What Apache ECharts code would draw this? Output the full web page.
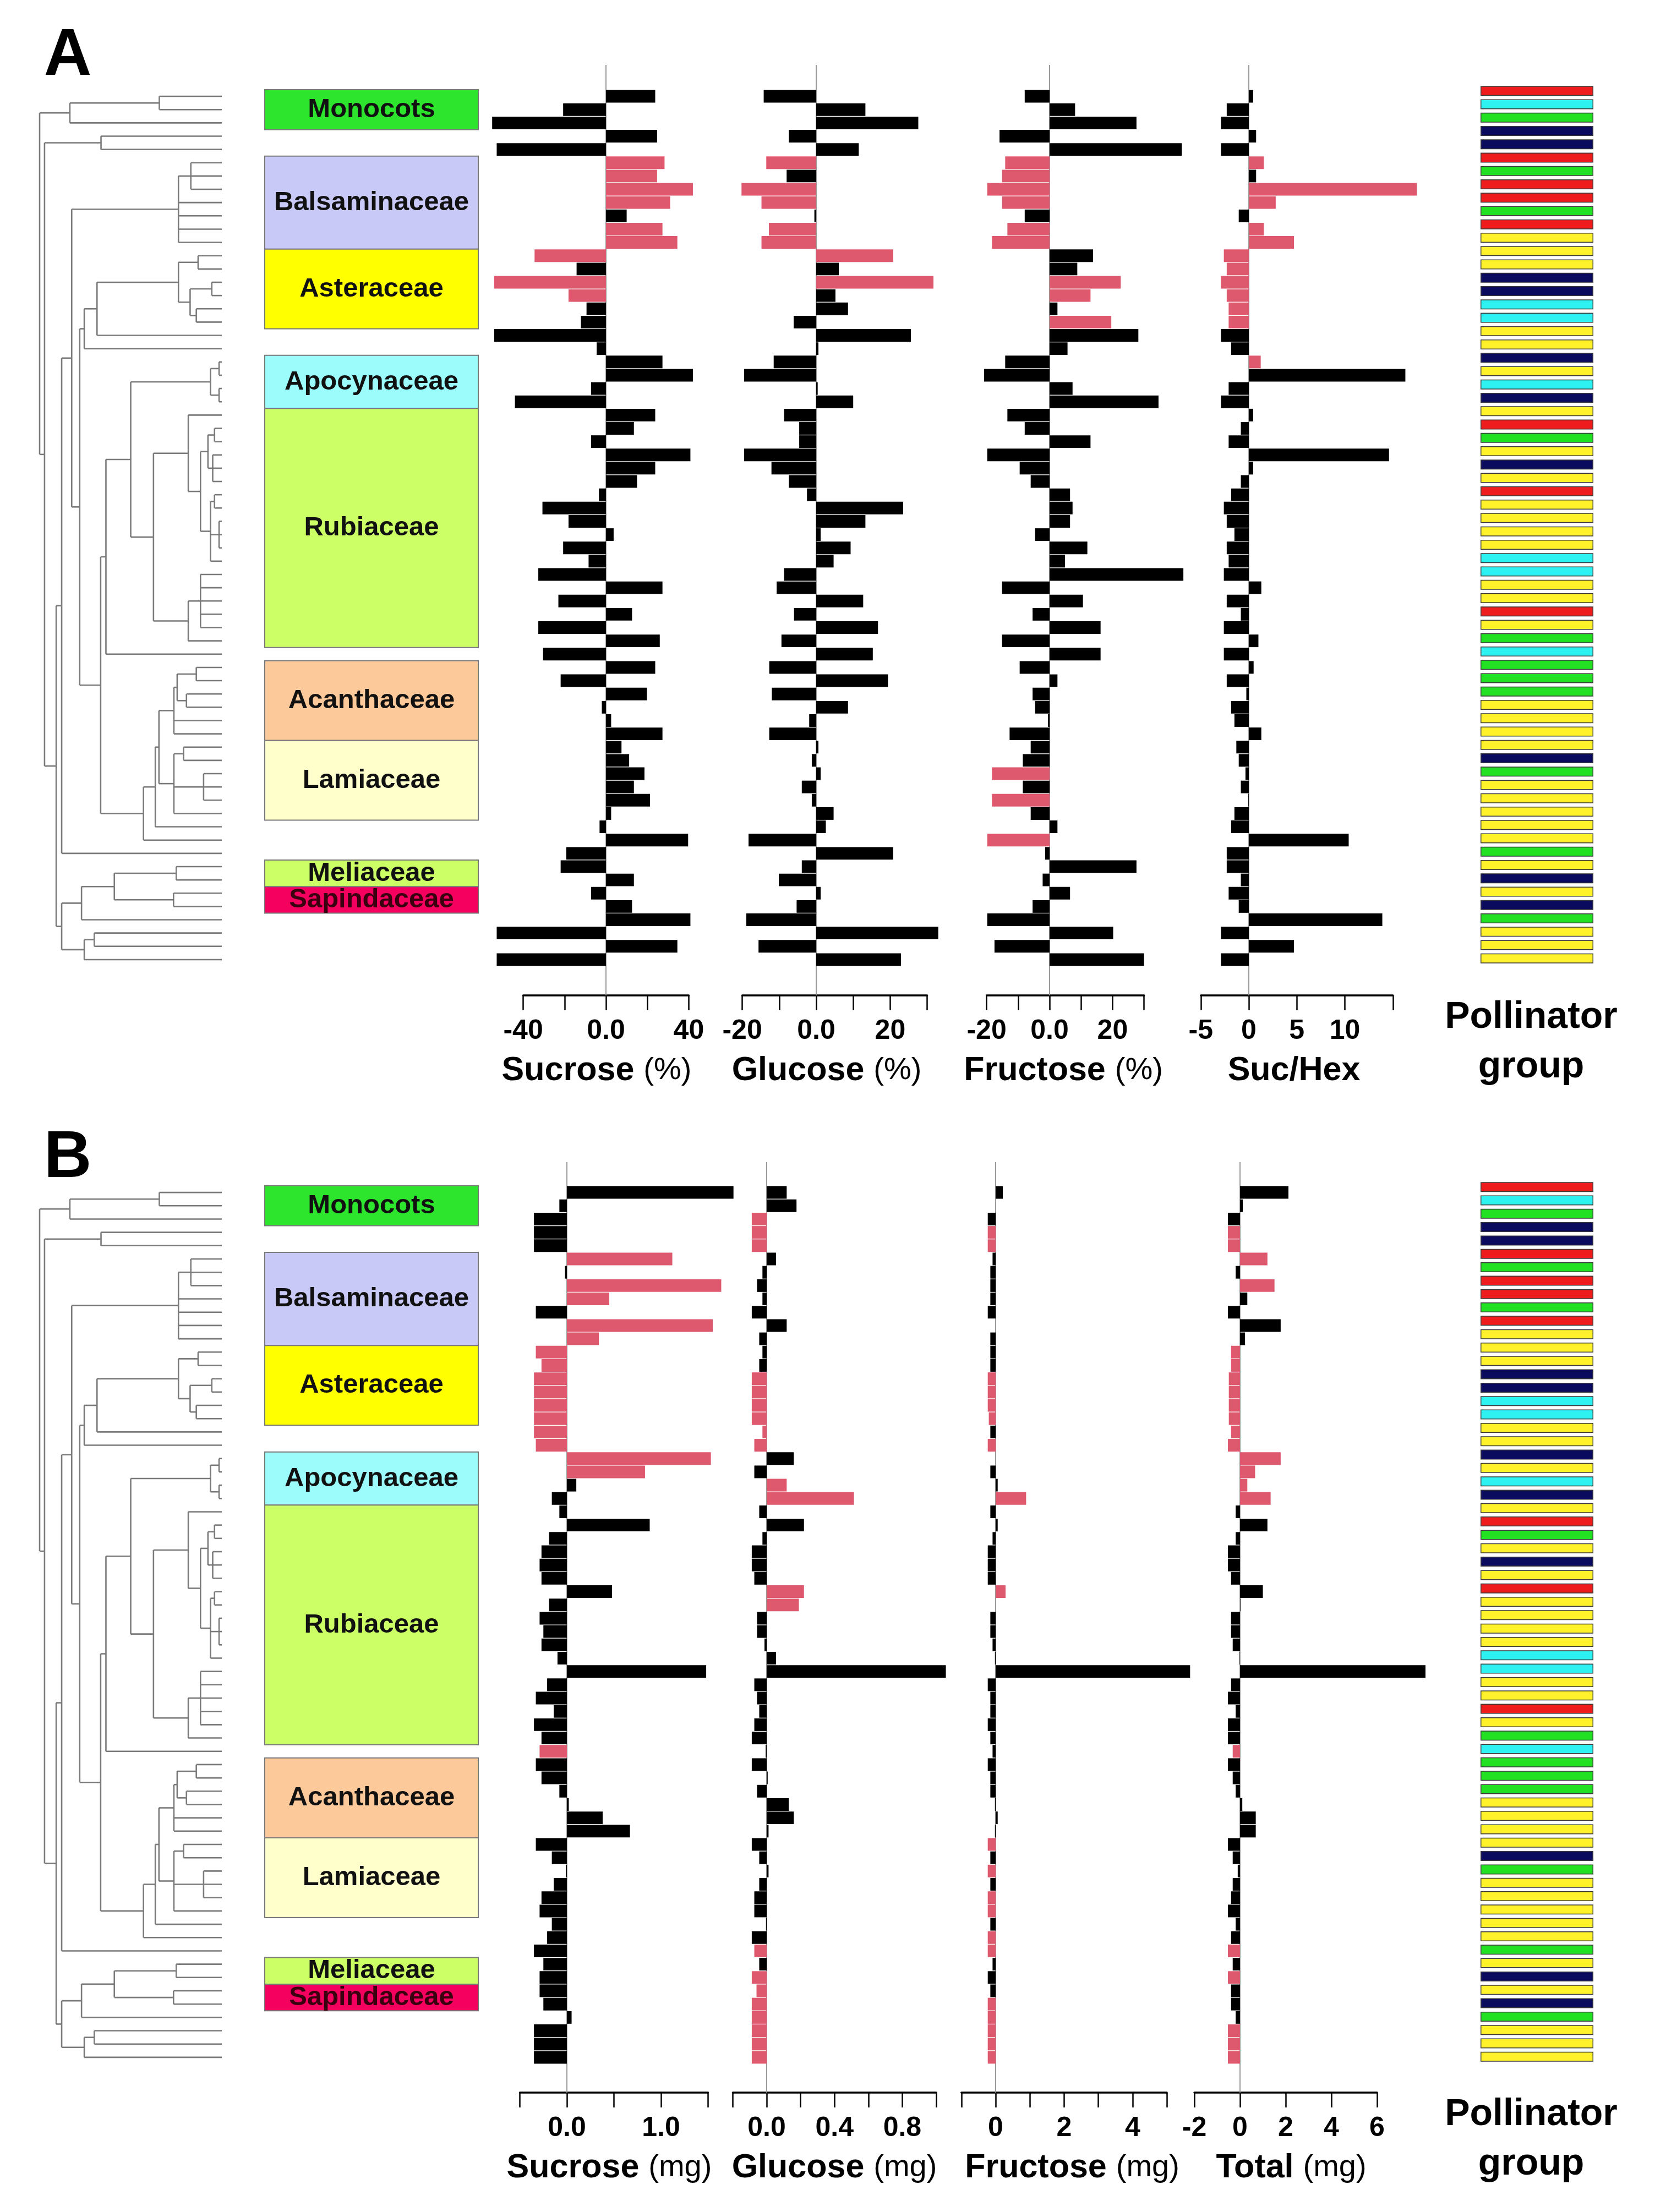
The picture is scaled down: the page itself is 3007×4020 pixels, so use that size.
<!DOCTYPE html>
<html><head><meta charset="utf-8">
<script src="https://cdn.jsdelivr.net/npm/echarts@6.0.0/dist/echarts.min.js"></script>
<style>html,body{margin:0;padding:0;background:#fff}#c{width:3007px;height:4020px}</style>
</head><body><div id="c"></div>
<script>
// ---------------- DATA ----------------
const species = Array.from({length: 66}, (_, i) => 'sp' + (i + 1));

const sucroseA = [23.8, -20.7, -55, 24.7, -52.8, 28.3, 24.7, 42, 31, 10,
  27.3, 34.5, -34.5, -14.2, -54, -18.1, -9.4, -12.1, -54, -4.5,
  27.3, 42, -7.2, -44, 23.8, 13.5, -7.2, 40.8, 23.8, 15,
  -3.4, -30.7, -18.1, 3.7, -20.7, -8.4, -32.7, 27.3, -23, 12.6,
  -32.7, 26, -30.4, 23.8, -21.9, 19.8, -2, 2.5, 27.3, 7.5,
  11.2, 18.6, 13.5, 21.3, 2.5, -3.1, 39.7, -19.2, -21.9, 13.5,
  -7.2, 12.6, 40.8, -52.8, 34.5, -52.8];
const glucoseA = [-14.2, 13.3, 27.6, -7.4, 11.5, -13.5, -8.0, -20.2, -14.8, -0.5,
  -12.8, -14.8, 20.8, 6.1, 31.7, 5.2, 8.6, -6.1, 25.6, 0.6,
  -11.5, -19.5, 0.4, 10, -8.7, -4.6, -4.6, -19.5, -12.1, -7.4,
  -2.5, 23.5, 13.3, 1.2, 9.3, 4.7, -8.7, -10.7, 12.7, -6,
  16.7, -9.4, 15.3, -12.7, 19.4, -12, 8.6, -1.9, -12.7, 0.6,
  -1.2, 1.2, -3.9, -1.2, 4.7, 2.6, -18.3, 20.8, -3.9, -10.1,
  1.2, -5.3, -18.9, 33, -15.6, 22.9];
const fructoseA = [-7.9, 8.1, 27.6, -15.9, 42, -14.1, -15.1, -19.8, -15.1, -7.9,
  -13.4, -18.3, 13.8, 8.8, 22.6, 13.0, 2.5, 19.6, 28.2, 5.7,
  -14.1, -20.8, 7.3, 34.6, -13.4, -7.9, 13.0, -19.8, -9.5, -6.0,
  6.5, 7.3, 6.5, -4.6, 12.0, 4.9, 42.5, -15.1, 10.6, -5.4,
  16.2, -15.1, 16.2, -9.5, 2.5, -5.4, -4.6, -0.5, -12.7, -6.0,
  -8.5, -18.3, -8.5, -18.3, -6.0, 2.5, -19.8, -1.4, 27.6, -2.2,
  6.5, -5.4, -19.8, 20.2, -17.5, 30];
const sucHexA = [0.45, -2.3, -2.9, 0.76, -2.9, 1.56, 0.76, 17.5, 2.8, -1.05,
  1.56, 4.7, -2.6, -2.3, -2.9, -2.3, -2.1, -2.1, -2.9, -1.84,
  1.24, 16.3, -2.1, -2.9, 0.45, -0.83, -2.1, 14.6, 0.45, -0.83,
  -1.84, -2.6, -2.3, -1.5, -2.3, -2.1, -2.6, 1.3, -2.3, -0.83,
  -2.6, 1.0, -2.6, 0.5, -2.3, -0.26, -1.84, -1.5, 1.3, -1.3,
  -1.05, -0.35, -0.83, -0.05, -1.5, -1.84, 10.4, -2.3, -2.3, -0.83,
  -2.1, -1.05, 13.9, -2.9, 4.7, -2.9];
const sucroseB = [1.77, -0.08, -0.35, -0.35, -0.35, 1.12, -0.02, 1.64, 0.45, -0.33,
  1.55, 0.34, -0.33, -0.27, -0.35, -0.35, -0.35, -0.35, -0.35, -0.33,
  1.53, 0.83, 0.1, -0.16, -0.08, 0.88, -0.19, -0.27, -0.29, -0.27,
  0.48, -0.19, -0.29, -0.25, -0.27, -0.1, 1.48, -0.21, -0.33, -0.14,
  -0.35, -0.27, -0.29, -0.33, -0.27, -0.08, 0.02, 0.38, 0.67, -0.33,
  -0.16, -0.01, -0.14, -0.27, -0.29, -0.16, -0.21, -0.35, -0.25, -0.29,
  -0.29, -0.25, 0.05, -0.35, -0.35, -0.35];
const glucoseB = [0.118, 0.176, -0.088, -0.088, -0.088, 0.055, -0.025, -0.057, -0.025, -0.088,
  0.118, -0.044, -0.025, -0.044, -0.088, -0.088, -0.088, -0.088, -0.025, -0.073,
  0.16, -0.073, 0.118, 0.515, -0.044, 0.22, -0.025, -0.088, -0.088, -0.073,
  0.22, 0.19, -0.057, -0.057, -0.013, 0.055, 1.057, -0.073, -0.057, -0.044,
  -0.073, -0.088, -0.006, -0.088, 0.006, -0.057, 0.13, 0.16, 0.011, -0.088,
  -0.044, 0.011, -0.044, -0.073, -0.073, -0.004, -0.088, -0.073, -0.044, -0.088,
  -0.06, -0.088, -0.088, -0.088, -0.088, -0.088];
const fructoseB = [0.21, 0.0, -0.23, -0.23, -0.23, -0.09, -0.155, -0.155, -0.155, -0.23,
  0.0, -0.155, -0.155, -0.155, -0.23, -0.23, -0.23, -0.2, -0.155, -0.23,
  0.0, -0.155, 0.06, 0.89, -0.155, 0.06, -0.09, -0.23, -0.23, -0.23,
  0.29, 0.0, -0.155, -0.155, -0.09, -0.02, 5.68, -0.23, -0.155, -0.155,
  -0.23, -0.155, -0.09, -0.23, -0.155, -0.155, -0.02, 0.06, -0.02, -0.23,
  -0.155, -0.23, -0.155, -0.23, -0.23, -0.155, -0.23, -0.23, -0.09, -0.23,
  -0.155, -0.23, -0.23, -0.23, -0.23, -0.23];
const totalB = [2.12, 0.12, -0.53, -0.53, -0.53, 1.2, -0.19, 1.51, 0.32, -0.53,
  1.78, 0.22, -0.39, -0.39, -0.49, -0.49, -0.49, -0.49, -0.39, -0.53,
  1.78, 0.66, 0.32, 1.34, -0.19, 1.2, -0.19, -0.53, -0.53, -0.39,
  1.0, 0.02, -0.39, -0.39, -0.32, -0.02, 8.12, -0.39, -0.53, -0.19,
  -0.53, -0.53, -0.32, -0.53, -0.32, -0.19, 0.1, 0.69, 0.69, -0.53,
  -0.32, -0.1, -0.32, -0.39, -0.53, -0.19, -0.39, -0.53, -0.32, -0.53,
  -0.39, -0.39, -0.19, -0.53, -0.53, -0.53];

// rows (1-based) drawn as significant (pink)
const sucroseAPink = [6, 7, 8, 9, 11, 12, 13, 15, 16];
const glucoseAPink = [6, 8, 9, 11, 12, 13, 15];
const fructoseAPink = [6, 7, 8, 9, 11, 12, 15, 16, 18, 52, 54, 57];
const sucHexAPink = [6, 8, 9, 11, 12, 13, 14, 15, 16, 17, 18, 21];
const sucroseBPink = [6, 8, 9, 11, 12, 13, 14, 15, 16, 17, 18, 19, 20, 21, 22, 43];
const glucoseBPink = [3, 4, 5, 15, 16, 17, 18, 19, 20, 23, 24, 31, 32, 58, 60, 61, 62, 63, 64, 65, 66];
const fructoseBPink = [4, 5, 15, 16, 17, 18, 20, 24, 31, 50, 52, 54, 55, 57, 58, 62, 63, 64, 65, 66];
const totalBPink = [4, 5, 6, 8, 13, 14, 15, 16, 17, 18, 19, 20, 21, 22, 23, 24, 43, 58, 60, 64, 65, 66];

// pollinator group per species (R red, C cyan, G green, N navy, Y yellow)
const pollinator = ['R','C','G','N','N','R','G','R','R','G',
  'R','Y','Y','Y','N','N','C','C','Y','Y',
  'N','Y','C','N','Y','R','G','Y','N','Y',
  'R','Y','Y','Y','Y','C','C','Y','Y','R',
  'Y','G','C','G','G','G','Y','Y','Y','Y',
  'N','G','Y','Y','Y','Y','Y','G','Y','N',
  'Y','N','G','Y','Y','Y'];

// family blocks
const familyNames = ['Monocots', 'Balsaminaceae', 'Asteraceae', 'Apocynaceae', 'Rubiaceae', 'Acanthaceae', 'Lamiaceae', 'Meliaceae', 'Sapindaceae'];
const familyFirst = [1, 6, 13, 21, 25, 44, 50, 59, 61];
const familyLast  = [3, 12, 18, 24, 42, 49, 55, 60, 62];

// tick labels
const sucroseATickLabels = ['-40', '', '0.0', '', '40'];
const glucoseATickLabels = ['-20', '', '0.0', '', '20', ''];
const fructoseATickLabels = ['-20', '', '0.0', '', '20', ''];
const sucHexATickLabels = ['-5', '0', '5', '10', ''];
const sucroseBTickLabels = ['', '0.0', '', '1.0', ''];
const glucoseBTickLabels = ['', '0.0', '', '0.4', '', '0.8', ''];
const fructoseBTickLabels = ['', '0', '', '2', '', '4', ''];
const totalBTickLabels = ['-2', '0', '2', '4', '6'];

// phylogeny: N(node depth 0..1, children); numbers are species rows
function N(h, c) { return {h: h, c: c}; }
const phylogeny = N(0, [
  N(0.166, [N(0.657, [1, 2]), 3]),
  N(0.027, [
    N(0.337, [4, 5]),
    N(0.091, [
      N(0.121, [
        N(0.176, [
          N(0.762, [N(0.83, [6, 7, 8]), 9, 10, 11, 12]),
          N(0.22, [
            N(0.245, [
              N(0.315, [
                N(0.762, [N(0.87, [13, 14]), N(0.826, [N(0.945, [15, 16]), N(0.86, [17, 18])])]),
                19]),
              20]),
            N(0.335, [
              N(0.364, [
                N(0.5, [
                  N(0.938, [N(0.985, [21, 22]), N(0.985, [23, 24])]),
                  N(0.625, [
                    N(0.816, [25, N(0.883, [
                      N(0.924, [N(0.96, [26, 27]), N(0.95, [28, 29, 30])]),
                      N(0.938, [N(0.96, [31, 32]), N(0.985, [33, 34, 35]), 36])])]),
                    N(0.816, [N(0.883, [37, 38, 39, 40, 41]), 42])
                  ])
                ]),
                43]),
              N(0.57, [
                N(0.635, [
                  N(0.655, [
                    N(0.737, [N(0.755, [N(0.86, [44, 45]), N(0.806, [46, 47])]), 48, 49]),
                    N(0.737, [N(0.79, [50, 51]), N(0.9, [52, 53, 54]), 55])
                  ]),
                  56]),
                57])
            ])
          ])
        ]),
        58]),
      N(0.121, [
        N(0.23, [N(0.41, [N(0.75, [59, 60]), N(0.735, [61, 62])]), 63]),
        N(0.245, [N(0.3, [64, 65]), 66])
      ])
    ])
  ])
]);

// ---------------- STYLE / LAYOUT ----------------
const FONT = '"Liberation Sans", Arial, Helvetica, sans-serif';
const PINK = '#de586e';
const POL_COLORS = {R: '#ee1c1c', C: '#2ef2f2', G: '#22e022', N: '#0a0a5e', Y: '#fff22a'};
const FAMILY_COLORS = ['#2ee52e', '#c9c9f7', '#ffff00', '#9cfcfc', '#ccff66', '#fcca9a', '#ffffcc', '#ccff66', '#f5005f'];

const panels = [
  {label: 'A', labelY: 103, rowTop: 163, rowBottom: 1756, lineTop: 118, axisY: 1809, polTop: 153, polBottom: 1754,
    cols: [
      {data: sucroseA, pink: sucroseAPink, zero: 1101, scale: 3.76, bar: [-58, 48], axis: [-40, 40, 20], labels: sucroseATickLabels, title: ['Sucrose', '(%)'], tx: 1084},
      {data: glucoseA, pink: glucoseAPink, zero: 1483, scale: 6.72, bar: [-22, 36], axis: [-20, 30, 10], labels: glucoseATickLabels, title: ['Glucose', '(%)'], tx: 1502},
      {data: fructoseA, pink: fructoseAPink, zero: 1907, scale: 5.72, bar: [-22, 45], axis: [-20, 30, 10], labels: fructoseATickLabels, title: ['Fructose', '(%)'], tx: 1932},
      {data: sucHexA, pink: sucHexAPink, zero: 2269, scale: 17.45, bar: [-4, 19], axis: [-5, 15, 5], labels: sucHexATickLabels, title: ['Suc/Hex', ''], tx: 2351}
    ]},
  {label: 'B', labelY: 2106, rowTop: 2155, rowBottom: 3751, lineTop: 2112, axisY: 3803, polTop: 2145, polBottom: 3750,
    cols: [
      {data: sucroseB, pink: sucroseBPink, zero: 1030, scale: 171, bar: [-0.5, 1.9], axis: [-0.5, 1.5, 0.5], labels: sucroseBTickLabels, title: ['Sucrose', '(mg)'], tx: 1107},
      {data: glucoseB, pink: glucoseBPink, zero: 1393, scale: 308, bar: [-0.2, 1.15], axis: [-0.2, 1.0, 0.2], labels: glucoseBTickLabels, title: ['Glucose', '(mg)'], tx: 1516},
      {data: fructoseB, pink: fructoseBPink, zero: 1809, scale: 62.2, bar: [-1, 6], axis: [-1, 5, 1], labels: fructoseBTickLabels, title: ['Fructose', '(mg)'], tx: 1948},
      {data: totalB, pink: totalBPink, zero: 2253, scale: 41.5, bar: [-2, 9], axis: [-2, 6, 2], labels: totalBTickLabels, title: ['Total', '(mg)'], tx: 2346}
    ]}
];

// ---------------- BUILD ----------------
const grid = [], xAxis = [], yAxis = [], series = [], graphic = [];
function addGrid(left, top, width, height) {
  grid.push({left: left, top: top, width: width, height: height, containLabel: false});
  return grid.length - 1;
}

const segments = [];
(function walk(node) {
  const ys = node.c.map(ch => typeof ch === 'number' ? ch : walk(ch));
  const first = ys[0], last = ys[ys.length - 1];
  segments.push([node.h, first, node.h, last]);
  node.c.forEach((ch, i) => segments.push([node.h, ys[i], typeof ch === 'number' ? 1 : ch.h, ys[i]]));
  return (first + last) / 2;
})(phylogeny);

panels.forEach(p => {
  const H = p.rowBottom - p.rowTop;
  // dendrogram
  let g = addGrid(72, p.rowTop, 331, H);
  xAxis.push({gridIndex: g, type: 'value', min: 0, max: 1, show: false});
  yAxis.push({gridIndex: g, type: 'value', min: 0.5, max: 66.5, inverse: true, show: false});
  series.push({type: 'custom', xAxisIndex: xAxis.length - 1, yAxisIndex: yAxis.length - 1, data: segments,
    encode: {x: [0, 2], y: [1, 3]}, silent: true,
    renderItem: (params, api) => {
      const a = api.coord([api.value(0), api.value(1)]);
      const b = api.coord([api.value(2), api.value(3)]);
      return {type: 'line', shape: {x1: a[0], y1: a[1], x2: b[0], y2: b[1]}, style: {stroke: '#7a7a7a', lineWidth: 2.6}};
    }});

  // family boxes
  g = addGrid(481, p.rowTop, 388, H);
  xAxis.push({gridIndex: g, type: 'value', min: 0, max: 1, show: false});
  yAxis.push({gridIndex: g, type: 'value', min: 0.5, max: 66.5, inverse: true, show: false});
  series.push({type: 'custom', xAxisIndex: xAxis.length - 1, yAxisIndex: yAxis.length - 1,
    data: familyNames.map((n, i) => [familyFirst[i], familyLast[i]]), encode: {y: [0, 1]}, silent: true,
    renderItem: (params, api) => {
      const i = params.dataIndex;
      const a = api.coord([0, api.value(0) - 0.5]);
      const b = api.coord([1, api.value(1) + 0.5]);
      return {type: 'group', children: [
        {type: 'rect', shape: {x: a[0], y: a[1], width: b[0] - a[0], height: b[1] - a[1]},
          style: {fill: FAMILY_COLORS[i], stroke: '#7a7a7a', lineWidth: 2}},
        {type: 'text', style: {text: familyNames[i], x: (a[0] + b[0]) / 2, y: (a[1] + b[1]) / 2,
          textAlign: 'center', textVerticalAlign: 'middle', align: 'center', verticalAlign: 'middle',
          font: 'bold 49px ' + FONT, fill: i === 8 ? '#3a0010' : '#111'}}
      ]};
    }});

  // data columns
  p.cols.forEach(c => {
    // axis + zero line grid
    const ag = addGrid(c.zero + c.axis[0] * c.scale, p.lineTop, (c.axis[1] - c.axis[0]) * c.scale, p.axisY - p.lineTop);
    xAxis.push({gridIndex: ag, type: 'value', min: c.axis[0], max: c.axis[1], interval: c.axis[2], position: 'bottom',
      axisLine: {show: true, onZero: false, lineStyle: {color: '#000', width: 3.5}},
      axisTick: {show: true, length: 27, lineStyle: {color: '#000', width: 2.5}},
      axisLabel: {show: true, margin: 40, fontSize: 50, fontWeight: 'bold', fontFamily: FONT, color: '#000',
        showMinLabel: true, showMaxLabel: true, hideOverlap: false,
        formatter: v => c.labels[Math.round((v - c.axis[0]) / c.axis[2])] || ''},
      splitLine: {show: false}});
    yAxis.push({gridIndex: ag, type: 'value', min: 0, max: 1, show: false});
    series.push({type: 'custom', xAxisIndex: xAxis.length - 1, yAxisIndex: yAxis.length - 1, data: [[0]], z: 1, silent: true,
      renderItem: (params, api) => {
        const a = api.coord([api.value(0), 1]);
        const b = api.coord([api.value(0), 0]);
        return {type: 'line', shape: {x1: a[0], y1: a[1], x2: b[0], y2: b[1]}, style: {stroke: '#9a9a9a', lineWidth: 2}};
      }});
    // bars grid
    const bg = addGrid(c.zero + c.bar[0] * c.scale, p.rowTop, (c.bar[1] - c.bar[0]) * c.scale, H);
    xAxis.push({gridIndex: bg, type: 'value', min: c.bar[0], max: c.bar[1], show: false});
    yAxis.push({gridIndex: bg, type: 'category', data: species, inverse: true, show: false});
    series.push({type: 'bar', xAxisIndex: xAxis.length - 1, yAxisIndex: yAxis.length - 1, z: 3, silent: true,
      barCategoryGap: '5%',
      data: c.data.map((v, i) => ({value: v, itemStyle: {color: c.pink.includes(i + 1) ? PINK : '#000'}}))});
    // title
    graphic.push({type: 'text', x: c.tx, y: p.axisY + 137, silent: true,
      style: {text: c.title[1] ? '{b|' + c.title[0] + ' }{n|' + c.title[1] + '}' : '{b|' + c.title[0] + '}',
        textAlign: 'center', textVerticalAlign: 'middle', align: 'center', verticalAlign: 'middle',
        rich: {b: {fontSize: 61, fontWeight: 'bold', fontFamily: FONT, fill: '#000', color: '#000'},
               n: {fontSize: 56, fontWeight: 'normal', fontFamily: FONT, fill: '#000', color: '#000'}}}});
  });

  // pollinator column
  g = addGrid(2690, p.polTop, 205, p.polBottom - p.polTop);
  xAxis.push({gridIndex: g, type: 'value', min: 0, max: 1, show: false});
  yAxis.push({gridIndex: g, type: 'category', data: species, inverse: true, show: false});
  series.push({type: 'bar', xAxisIndex: xAxis.length - 1, yAxisIndex: yAxis.length - 1, barWidth: 18, silent: true,
    data: pollinator.map(k => ({value: 1, itemStyle: {color: POL_COLORS[k], borderColor: '#3a3a3a', borderWidth: 1.5}}))});

  graphic.push({type: 'text', x: 2782, y: p.axisY + 40, silent: true,
    style: {text: 'Pollinator', font: 'bold 68px ' + FONT, fill: '#000', textAlign: 'center', textVerticalAlign: 'middle', align: 'center', verticalAlign: 'middle'}});
  graphic.push({type: 'text', x: 2782, y: p.axisY + 130, silent: true,
    style: {text: 'group', font: 'bold 68px ' + FONT, fill: '#000', textAlign: 'center', textVerticalAlign: 'middle', align: 'center', verticalAlign: 'middle'}});
  graphic.push({type: 'text', x: 123, y: p.labelY, silent: true,
    style: {text: p.label, font: 'bold 120px ' + FONT, fill: '#000', textAlign: 'center', textVerticalAlign: 'middle', align: 'center', verticalAlign: 'middle'}});
});

const chart = echarts.init(document.getElementById('c'), null, {renderer: 'canvas', width: 3007, height: 4020});
chart.setOption({
  backgroundColor: '#ffffff',
  animation: false,
  grid: grid, xAxis: xAxis, yAxis: yAxis, series: series, graphic: graphic
});
</script>
</body></html>
